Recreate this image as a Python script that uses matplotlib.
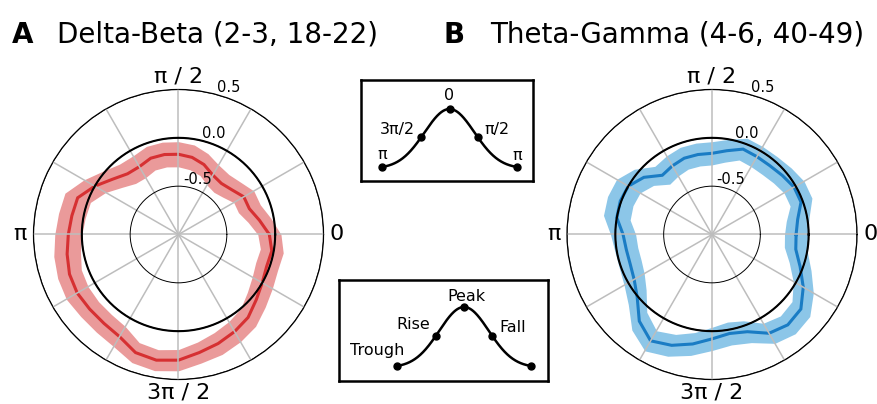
import numpy as np
import matplotlib
matplotlib.use("Agg")
import matplotlib.pyplot as plt

# ---------------- data ----------------
phase_deg = [0, 10, 20, 30, 40, 50, 60, 70, 80, 90, 100, 110,
             120, 130, 140, 150, 160, 170, 180, 190, 200, 210, 220, 230,
             240, 250, 260, 270, 280, 290, 300, 310, 320, 330, 340, 350]

delta_beta = [-0.06, -0.15, -0.22, -0.22, -0.28, -0.31, -0.29, -0.23, -0.19, -0.17, -0.16, -0.16,
              -0.19, -0.18, -0.11, 0.00, 0.11, 0.12, 0.14, 0.17, 0.20, 0.21, 0.20, 0.20,
              0.22, 0.30, 0.32, 0.30, 0.24, 0.20, 0.16, 0.12, 0.05, 0.00, -0.03, -0.02]
delta_beta_err = [0.12, 0.12, 0.12, 0.12, 0.12, 0.12, 0.12, 0.12, 0.13, 0.13, 0.13, 0.13,
                  0.13, 0.13, 0.13, 0.13, 0.14, 0.14, 0.14, 0.14, 0.13, 0.13, 0.12, 0.12,
                  0.12, 0.11, 0.11, 0.11, 0.11, 0.12, 0.12, 0.12, 0.12, 0.12, 0.12, 0.12]

theta_gamma = [-0.13, -0.10, -0.02, -0.02, -0.05, -0.07, -0.07, -0.06, -0.12, -0.16, -0.16, -0.16,
               -0.18, -0.20, -0.08, 0.00, 0.01, 0.00, -0.08, -0.10, -0.10, -0.07, 0.01, 0.17,
               0.27, 0.22, 0.15, 0.08, 0.04, 0.07, 0.18, 0.22, 0.20, 0.09, -0.03, -0.12]
theta_gamma_err = [0.12, 0.12, 0.12, 0.12, 0.12, 0.12, 0.12, 0.12, 0.12, 0.12, 0.12, 0.12,
                   0.12, 0.12, 0.13, 0.14, 0.14, 0.14, 0.13, 0.12, 0.12, 0.12, 0.12, 0.12,
                   0.12, 0.12, 0.12, 0.12, 0.12, 0.12, 0.12, 0.12, 0.12, 0.12, 0.12, 0.12]

theta_tick_deg = [0, 30, 60, 90, 120, 150, 180, 210, 240, 270, 300, 330]
theta_tick_labels = ["0", "", "", "π / 2", "", "", "π", "", "", "3π / 2", "", ""]
r_ticks = [-0.5, 0.0, 0.5]
r_tick_labels = ["-0.5", "0.0", "0.5"]

titles = ["Delta-Beta (2-3, 18-22)", "Theta-Gamma (4-6, 40-49)"]
panel_letters = ["A", "B"]

# schematic waveform insets
dot_x = [-1.0, -0.42, 0.0, 0.42, 1.0]
phase_labels = ["π", "3π/2", "0", "π/2", "π"]
part_labels = ["Trough", "Rise", "Peak", "Fall"]

# ---------------- figure ----------------
W, H = 877, 404
fig = plt.figure(figsize=(W / 100, H / 100), dpi=100)


def fx(px):
    return px / W


def fy(py):
    return 1 - py / H


R_PX = 145


def make_polar(cx, cy, vals, errs, line_c, fill_c):
    ax = fig.add_axes([fx(cx - R_PX), fy(cy + R_PX), 2 * R_PX / W, 2 * R_PX / H],
                      projection="polar")
    th = np.deg2rad(phase_deg + [phase_deg[0] + 360])
    v = np.array(vals + vals[:1])
    e = np.array(errs + errs[:1])
    ax.fill_between(th, v - e, v + e, color=fill_c, lw=0, zorder=1)
    ax.plot(th, v, color=line_c, lw=2.2, zorder=2, solid_joinstyle="miter")
    circ = np.linspace(0, 2 * np.pi, 361)
    ax.plot(circ, np.zeros_like(circ), color="black", lw=1.5, zorder=3)
    ax.set_ylim(-1, 0.5)
    ax.set_yticks(r_ticks)
    ax.set_yticklabels([])
    ax.set_xticks(np.deg2rad(theta_tick_deg))
    ax.set_xticklabels(theta_tick_labels, fontsize=16)
    ax.tick_params(axis="x", pad=-1)
    ax.xaxis.grid(True, color="#bdbdbd", lw=1.1)
    ax.yaxis.grid(True, color="black", lw=0.7)
    ax.set_axisbelow(False)
    ax.spines["polar"].set_linewidth(0.9)
    ax.spines["polar"].set_color("black")
    for r, lab in zip(r_ticks, r_tick_labels):
        ax.text(np.deg2rad(71), r + 0.105, lab, fontsize=10.5,
                ha="center", va="center", zorder=5)
    return ax


make_polar(178.5, 234.5, delta_beta, delta_beta_err, "#d63032", "#ea9a9a")
make_polar(712, 234.5, theta_gamma, theta_gamma_err, "#1a7cc4", "#8cc6e8")

# titles
fig.text(fx(12), fy(42.7), panel_letters[0], fontsize=20, fontweight="bold", va="baseline")
fig.text(fx(57), fy(42.7), titles[0], fontsize=20, va="baseline")
fig.text(fx(443), fy(42.7), panel_letters[1], fontsize=20, fontweight="bold", va="baseline")
fig.text(fx(490), fy(42.7), titles[1], fontsize=20, va="baseline")


# ---------------- schematic insets ----------------
def bump(x, s=0.37):
    e1 = np.exp(-1 / (2 * s * s))
    return (np.exp(-np.asarray(x) ** 2 / (2 * s * s)) - e1) / (1 - e1)


def make_box(x0, x1, y0, y1, cx, half, base, amp):
    ax = fig.add_axes([fx(x0), fy(y1), (x1 - x0) / W, (y1 - y0) / H])
    ax.set_xlim((x0 - cx) / half, (x1 - cx) / half)
    ax.set_ylim((base - y1) / amp, (base - y0) / amp)
    ax.set_xticks([])
    ax.set_yticks([])
    for sp in ax.spines.values():
        sp.set_linewidth(1.8)
        sp.set_color("black")
    xs = np.linspace(-1, 1, 300)
    ax.plot(xs, bump(xs), color="black", lw=1.8, zorder=2)
    ax.plot(dot_x, bump(dot_x), "o", color="black", ms=5, zorder=3)
    return ax


ax_top = make_box(361, 533, 80, 181, 449.5, 67.5, 167, 58)
fs_s = 11.5
ax_top.text(0.0, 1.24, phase_labels[2], fontsize=fs_s, ha="center", va="center")
ax_top.text(-0.776, 0.655, phase_labels[1], fontsize=fs_s, ha="center", va="center")
ax_top.text(0.70, 0.655, phase_labels[3], fontsize=fs_s, ha="center", va="center")
ax_top.text(-1.0, 0.22, phase_labels[0], fontsize=fs_s, ha="center", va="center")
ax_top.text(1.0, 0.20, phase_labels[4], fontsize=fs_s, ha="center", va="center")

ax_bot = make_box(339, 548, 280, 381, 464, 67, 366, 59)
ax_bot.text(0.04, 1.186, part_labels[2], fontsize=fs_s, ha="center", va="center")
ax_bot.text(-0.75, 0.695, part_labels[1], fontsize=fs_s, ha="center", va="center")
ax_bot.text(0.73, 0.661, part_labels[3], fontsize=fs_s, ha="center", va="center")
ax_bot.text(-1.29, 0.27, part_labels[0], fontsize=fs_s, ha="center", va="center")

fig.savefig("out.png", dpi=100)
